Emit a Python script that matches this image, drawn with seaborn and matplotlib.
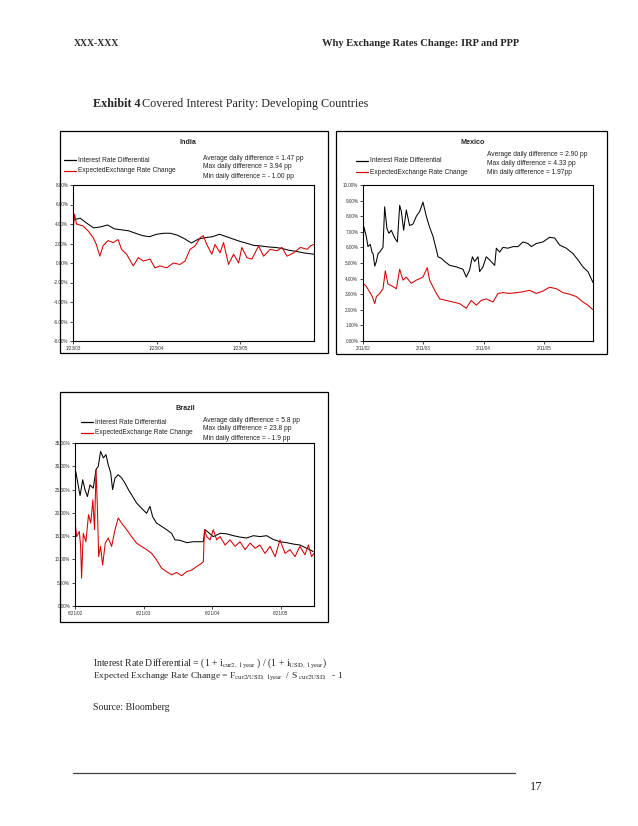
import matplotlib
matplotlib.use("Agg")
import matplotlib.pyplot as plt
from matplotlib.patches import Rectangle
from matplotlib.lines import Line2D
import pandas as pd
import seaborn as sns

W, H = 638, 826

# ---- India ----
india_ird_dates = [
    "2003-01-23", "2003-02-23", "2003-03-23", "2003-04-23", "2003-05-23", "2003-06-23",
    "2003-07-23", "2003-08-23", "2003-09-23", "2003-10-23", "2003-11-23", "2003-12-23",
    "2004-01-23", "2004-02-23", "2004-03-23", "2004-04-23", "2004-05-23", "2004-06-23",
    "2004-07-23", "2004-08-23", "2004-09-23", "2004-10-23", "2004-11-23", "2004-12-23",
    "2005-01-23", "2005-02-23", "2005-03-23", "2005-04-23", "2005-05-23", "2005-06-23",
    "2005-07-23", "2005-08-23", "2005-09-23", "2005-10-23", "2005-11-23", "2005-12-10",
]
india_ird = [
    4.4, 4.6, 4.1, 3.6, 3.7, 3.9, 3.5, 3.4, 3.3, 3.05, 2.8, 2.7,
    2.95, 3.05, 3.05, 2.85, 2.5, 2.05, 2.45, 2.6, 2.7, 2.95, 2.7, 2.45,
    2.2, 2.0, 1.8, 1.75, 1.65, 1.6, 1.5, 1.3, 1.2, 1.05, 0.95, 0.9,
]
india_eer_dates = [
    "2003-01-23", "2003-01-30", "2003-02-07", "2003-03-08", "2003-03-30", "2003-04-21",
    "2003-05-05", "2003-05-20", "2003-06-03", "2003-06-25", "2003-07-17", "2003-08-08",
    "2003-08-23", "2003-09-14", "2003-10-13", "2003-11-04", "2003-11-26", "2003-12-25",
    "2004-01-16", "2004-02-07", "2004-03-07", "2004-04-05", "2004-05-04", "2004-05-26",
    "2004-06-17", "2004-07-09", "2004-07-31", "2004-08-14", "2004-08-29", "2004-09-20",
    "2004-10-04", "2004-10-26", "2004-11-10", "2004-12-02", "2004-12-24", "2005-01-15",
    "2005-01-29", "2005-02-20", "2005-03-14", "2005-04-12", "2005-05-04", "2005-06-02",
    "2005-07-02", "2005-07-23", "2005-08-14", "2005-09-13", "2005-10-12", "2005-11-10",
    "2005-11-25", "2005-12-09",
]
india_eer = [
    3.3, 5.0, 4.0, 3.8, 3.3, 2.6, 1.9, 0.7, 1.75, 2.3, 2.1, 2.4,
    1.4, 0.9, -0.3, 0.55, 0.2, 0.4, -0.5, -0.3, -0.5, 0.0, -0.15, 0.2,
    1.4, 1.75, 2.6, 2.8, 1.9, 0.9, 1.9, 1.05, 2.1, -0.15, 0.9, 0.0,
    1.6, 0.55, 0.4, 1.75, 0.7, 1.4, 1.25, 1.6, 0.7, 1.05, 1.6, 1.4,
    1.75, 1.9,
]
india_yticks = [8, 6, 4, 2, 0, -2, -4, -6, -8]
india_xticks = ["2003-01-23", "2004-01-23", "2005-01-23"]
india_xlabels = ["1/23/03", "1/23/04", "1/23/05"]
india_stats = ["Average daily difference = 1.47 pp",
               "Max daily difference = 3.94 pp",
               "Min daily difference = - 1.00 pp"]

# ---- Mexico ----
mexico_ird_dates = [
    "2002-02-11", "2002-02-17", "2002-03-03", "2002-03-13", "2002-03-27", "2002-04-06",
    "2002-04-13", "2002-04-23", "2002-05-03", "2002-05-13", "2002-05-23", "2002-06-12",
    "2002-06-22", "2002-07-06", "2002-07-18", "2002-08-01", "2002-08-22", "2002-09-07",
    "2002-09-21", "2002-10-01", "2002-10-15", "2002-10-31", "2002-11-20", "2002-12-11",
    "2002-12-31", "2003-01-20", "2003-02-09", "2003-03-01", "2003-03-21", "2003-04-11",
    "2003-05-01", "2003-05-11", "2003-05-31", "2003-06-20", "2003-07-20", "2003-08-30",
    "2003-10-09", "2003-10-29", "2003-11-18", "2003-12-05", "2003-12-19", "2004-01-08",
    "2004-01-18", "2004-02-07", "2004-02-27", "2004-03-18", "2004-04-18", "2004-04-28",
    "2004-05-18", "2004-06-07", "2004-07-07", "2004-08-07", "2004-09-06", "2004-10-06",
    "2004-11-05", "2004-11-26", "2004-12-26", "2005-02-04", "2005-03-16", "2005-04-16",
    "2005-05-16", "2005-06-25", "2005-08-05", "2005-09-04", "2005-10-04", "2005-11-03",
    "2005-12-04",
]
mexico_ird = [
    6.5, 7.3, 6.7, 6.05, 6.2, 5.7, 5.6, 4.8, 5.1, 5.6, 5.7, 6.0,
    8.6, 7.2, 6.9, 7.1, 6.6, 6.35, 8.7, 8.3, 7.1, 8.4, 7.4, 7.5,
    8.0, 8.3, 8.9, 8.0, 7.3, 6.7, 5.85, 5.4, 5.3, 5.1, 4.85, 4.75,
    4.6, 4.1, 4.55, 5.4, 5.1, 5.4, 4.45, 4.75, 5.4, 5.2, 4.85, 5.95,
    5.7, 6.0, 5.95, 6.05, 6.05, 6.35, 6.25, 6.05, 6.25, 6.35, 6.65, 6.6,
    6.15, 5.95, 5.6, 5.2, 4.75, 4.45, 3.75,
]
mexico_eer_dates = [
    "2002-02-11", "2002-03-03", "2002-03-23", "2002-04-08", "2002-04-23", "2002-05-03",
    "2002-05-23", "2002-06-12", "2002-06-26", "2002-07-12", "2002-08-01", "2002-09-01",
    "2002-09-21", "2002-10-11", "2002-10-31", "2002-11-30", "2002-12-31", "2003-02-09",
    "2003-03-07", "2003-03-21", "2003-04-21", "2003-05-21", "2003-06-30", "2003-08-09",
    "2003-09-18", "2003-10-29", "2003-11-28", "2003-12-29", "2004-01-28", "2004-02-27",
    "2004-04-08", "2004-05-08", "2004-06-07", "2004-07-18", "2004-08-27", "2004-10-06",
    "2004-11-15", "2004-12-26", "2005-02-04", "2005-03-16", "2005-04-26", "2005-06-05",
    "2005-07-15", "2005-08-25", "2005-10-04", "2005-11-03", "2005-12-04",
]
mexico_eer = [
    3.7, 3.5, 3.15, 2.85, 2.4, 2.85, 3.05, 3.35, 4.5, 3.65, 3.55, 3.35,
    4.6, 3.9, 4.1, 3.7, 3.9, 4.1, 4.7, 3.9, 3.25, 2.7, 2.6, 2.5,
    2.4, 2.1, 2.6, 2.3, 2.6, 2.7, 2.5, 3.05, 3.1, 3.05, 3.1, 3.15,
    3.25, 3.05, 3.2, 3.45, 3.35, 3.1, 3.0, 2.85, 2.5, 2.3, 2.0,
]
mexico_yticks = [0, 1, 2, 3, 4, 5, 6, 7, 8, 9, 10]
mexico_xticks = ["2002-02-11", "2003-02-11", "2004-02-11", "2005-02-11"]
mexico_xlabels = ["2/11/02", "2/11/03", "2/11/04", "2/11/05"]
mexico_stats = ["Average daily difference = 2.90 pp",
                "Max daily difference = 4.33 pp",
                "Min daily difference = 1.97pp"]

# ---- Brazil ----
brazil_ird_dates = [
    "2002-06-21", "2002-06-25", "2002-07-09", "2002-07-18", "2002-08-01", "2002-08-13",
    "2002-08-26", "2002-09-09", "2002-09-26", "2002-10-11", "2002-10-23", "2002-11-04",
    "2002-11-19", "2002-12-03", "2002-12-15", "2002-12-28", "2003-01-07", "2003-01-20",
    "2003-02-06", "2003-02-24", "2003-03-14", "2003-04-01", "2003-04-18", "2003-05-15",
    "2003-06-10", "2003-07-07", "2003-07-25", "2003-08-08", "2003-08-29", "2003-09-25",
    "2003-10-21", "2003-11-17", "2003-12-05", "2004-01-01", "2004-02-06", "2004-03-12",
    "2004-04-17", "2004-05-04", "2004-05-13", "2004-05-31", "2004-06-26", "2004-08-01",
    "2004-09-05", "2004-10-11", "2004-11-15", "2004-12-21", "2005-01-25", "2005-03-01",
    "2005-04-06", "2005-05-11", "2005-06-16", "2005-07-21", "2005-08-26", "2005-09-30",
    "2005-11-05", "2005-12-10",
]
brazil_ird = [
    26.4, 28.9, 25.7, 23.7, 27.1, 25.0, 23.5, 26.0, 25.3, 29.3, 30.0, 33.2,
    31.8, 32.5, 30.3, 28.6, 25.0, 27.5, 28.2, 27.5, 26.4, 25.0, 23.9, 22.1,
    21.0, 19.9, 21.4, 19.2, 17.8, 17.1, 16.4, 15.6, 14.2, 14.1, 13.6, 13.8,
    13.8, 13.8, 16.4, 15.8, 14.9, 15.6, 15.5, 15.1, 14.8, 14.6, 15.1, 14.9,
    15.1, 14.3, 13.8, 13.6, 13.3, 13.1, 12.4, 11.7,
]
brazil_eer_dates = [
    "2002-06-21", "2002-06-30", "2002-07-14", "2002-07-21", "2002-07-26", "2002-08-04",
    "2002-08-18", "2002-09-01", "2002-09-13", "2002-09-24", "2002-10-03", "2002-10-11",
    "2002-10-18", "2002-10-25", "2002-11-04", "2002-11-15", "2002-11-29", "2002-12-15",
    "2003-01-02", "2003-01-20", "2003-02-06", "2003-02-24", "2003-03-23", "2003-04-18",
    "2003-05-15", "2003-06-10", "2003-07-07", "2003-08-03", "2003-08-29", "2003-09-25",
    "2003-10-21", "2003-11-17", "2003-12-14", "2004-01-10", "2004-02-06", "2004-03-03",
    "2004-03-30", "2004-04-26", "2004-05-04", "2004-05-10", "2004-05-22", "2004-06-09",
    "2004-06-26", "2004-07-14", "2004-08-01", "2004-08-28", "2004-09-23", "2004-10-20",
    "2004-11-15", "2004-12-12", "2005-01-08", "2005-02-04", "2005-03-01", "2005-03-28",
    "2005-04-24", "2005-05-21", "2005-06-16", "2005-07-13", "2005-08-08", "2005-09-04",
    "2005-09-30", "2005-10-27", "2005-11-14", "2005-12-01", "2005-12-14",
]
brazil_eer = [
    18.1, 14.9, 16.0, 12.8, 6.0, 15.6, 13.8, 19.6, 17.8, 22.8, 16.4, 29.3,
    21.4, 10.6, 12.8, 8.8, 13.5, 14.6, 12.8, 16.4, 18.9, 17.8, 16.4, 14.9,
    13.5, 12.8, 12.1, 11.3, 9.9, 8.1, 7.4, 6.7, 7.2, 6.5, 7.4, 7.7,
    8.5, 9.2, 9.5, 16.4, 14.9, 14.2, 16.4, 14.2, 14.9, 13.1, 14.2, 12.8,
    13.8, 12.1, 13.5, 12.4, 13.1, 11.3, 12.8, 10.6, 14.2, 11.3, 12.1, 10.6,
    12.8, 11.0, 13.1, 10.6, 11.3,
]
brazil_yticks = [0, 5, 10, 15, 20, 25, 30, 35]
brazil_xticks = ["2002-06-21", "2003-06-21", "2004-06-21", "2005-06-21"]
brazil_xlabels = ["6/21/02", "6/21/03", "6/21/04", "6/21/05"]
brazil_stats = ["Average daily difference = 5.8 pp",
                "Max daily difference = 23.8 pp",
                "Min daily difference = - 1.9 pp"]

LEG1 = "Interest Rate Differential"
LEG2 = "ExpectedExchange Rate Change"
RED = "#d40000"

sns.set_theme(style="white")
plt.rcParams["font.family"] = ["Liberation Sans", "DejaVu Sans"]
plt.rcParams["mathtext.fontset"] = "stix"

fig = plt.figure(figsize=(W / 100, H / 100), dpi=100)
fig.patch.set_facecolor("white")


def fx(px):
    return px / W


def fy(py):
    return 1 - py / H


def ftext(px, py, s, **kw):
    fig.text(fx(px), fy(py), s, **kw)


def panel(box, area, title, title_xy, leg_xy, stats_xy, stats_dy,
          ird_dates, ird, eer_dates, eer, yticks, xticks, xlabels, xlim, stats):
    x0, y0, x1, y1 = box
    fig.patches.append(Rectangle((fx(x0), fy(y1)), fx(x1) - fx(x0), fy(y0) - fy(y1),
                                 transform=fig.transFigure, fill=False,
                                 edgecolor="black", linewidth=0.9))
    a0, b0, a1, b1 = area
    ax = fig.add_axes([fx(a0), fy(b1), fx(a1) - fx(a0), fy(b0) - fy(b1)])
    ird_df = pd.DataFrame({"date": pd.to_datetime(ird_dates), "value": ird})
    eer_df = pd.DataFrame({"date": pd.to_datetime(eer_dates), "value": eer})
    sns.lineplot(data=ird_df, x="date", y="value", ax=ax, color="black", linewidth=0.75)
    sns.lineplot(data=eer_df, x="date", y="value", ax=ax, color=RED, linewidth=0.75)
    ax.set_xlim(pd.to_datetime(xlim[0]), pd.to_datetime(xlim[1]))
    ax.set_ylim(min(yticks), max(yticks))
    ax.set_yticks(yticks)
    ax.set_yticklabels([f"{v:.2f}%" for v in yticks], fontsize=3.3, color="#333333")
    ax.set_xticks(pd.to_datetime(xticks))
    ax.set_xticklabels(xlabels, fontsize=3.3, color="#333333")
    ax.set_xlabel("")
    ax.set_ylabel("")
    ax.tick_params(axis="both", direction="out", length=2, width=0.6, pad=1.5,
                   left=True, bottom=True)
    for sp in ax.spines.values():
        sp.set_color("black")
        sp.set_linewidth(0.8)

    # title, legend and stats text
    ftext(title_xy[0], title_xy[1], title, fontsize=5.2, fontweight="bold",
          ha="center", va="center")
    for i, (lab, col) in enumerate([(LEG1, "black"), (LEG2, RED)]):
        yy = leg_xy[1] + i * 11
        fig.add_artist(Line2D([fx(leg_xy[0]), fx(leg_xy[0] + 12)], [fy(yy), fy(yy)],
                              transform=fig.transFigure, color=col, linewidth=0.9))
        ftext(leg_xy[0] + 14, yy, lab, fontsize=4.8, va="center", color="#222222")
    for i, s in enumerate(stats):
        ftext(stats_xy[0], stats_xy[1] + i * stats_dy, s, fontsize=4.8, va="center",
              color="#222222")
    return ax


panel((60, 131, 328, 353), (73, 185, 314, 341), "India", (188, 143), (64, 160), (203, 158), 9,
      india_ird_dates, india_ird, india_eer_dates, india_eer,
      india_yticks, india_xticks, india_xlabels, ("2003-01-23", "2005-12-10"), india_stats)

panel((336, 131, 607, 354), (363, 185, 593, 341), "Mexico", (473, 143), (356, 161), (487, 155), 8.5,
      mexico_ird_dates, mexico_ird, mexico_eer_dates, mexico_eer,
      mexico_yticks, mexico_xticks, mexico_xlabels, ("2002-02-11", "2005-12-04"), mexico_stats)

panel((60, 392, 328, 622), (75, 443, 314, 606), "Brazil", (185, 409), (81, 422), (203, 420), 9,
      brazil_ird_dates, brazil_ird, brazil_eer_dates, brazil_eer,
      brazil_yticks, brazil_xticks, brazil_xlabels, ("2002-06-21", "2005-12-14"), brazil_stats)

# page text
serif = ["Liberation Serif", "DejaVu Serif"]
ftext(74, 44, "XXX-XXX", fontsize=7, fontweight="bold", family=serif, va="center")
ftext(519, 44, "Why Exchange Rates Change: IRP and PPP", fontsize=7.6, fontweight="bold",
      family=serif, va="center", ha="right")
ftext(93, 104, "Exhibit 4", fontsize=8.7, fontweight="bold", family=serif, va="center")
ftext(142, 104, "Covered Interest Parity: Developing Countries", fontsize=8.7,
      family=serif, va="center")
ftext(93, 663, r"Interest Rate Differential = (1 + i$_{\mathrm{cur2,\ 1 year}}$ ) / (1 + i$_{\mathrm{USD,\ 1 year}}$)",
      fontsize=7, family=serif, va="center")
ftext(93, 676, r"Expected Exchange Rate Change = F$_{\mathrm{cur2/USD,\ 1year}}$  / S $_{\mathrm{cur2USD,}}$  - 1",
      fontsize=6.8, family=serif, va="center")
ftext(93, 707, "Source: Bloomberg", fontsize=7, family=serif, va="center")
fig.add_artist(Line2D([fx(73), fx(515)], [fy(773), fy(773)], transform=fig.transFigure,
                      color="#444444", linewidth=0.9))
ftext(530, 787, "17", fontsize=9, family=serif, va="center")

fig.savefig("out.png", dpi=100, facecolor="white")
